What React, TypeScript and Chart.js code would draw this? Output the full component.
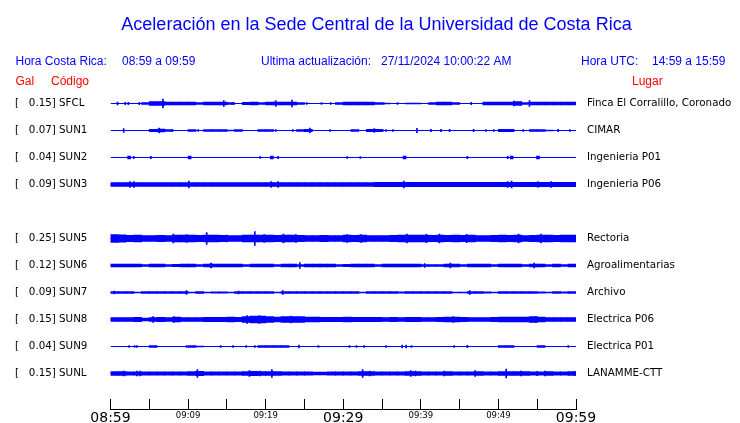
import { useEffect, useRef } from "react";
import { Chart, registerables } from "chart.js";

Chart.register(...registerables);

// ---- data ----
const stationCodes = ["SFCL", "SUN1", "SUN2", "SUN3", "SUN5", "SUN6", "SUN7", "SUN8", "SUN9", "SUNL"];
const stationRows = [0, 1, 2, 3, 5, 6, 7, 8, 9, 10];
const galValues = ["0.15", "0.07", "0.04", "0.09", "0.25", "0.12", "0.09", "0.15", "0.04", "0.15"];
const places = [
  "Finca El Corralillo, Coronado",
  "CIMAR",
  "Ingenieria P01",
  "Ingenieria P06",
  "Rectoria",
  "Agroalimentarias",
  "Archivo",
  "Electrica P06",
  "Electrica P01",
  "LANAMME-CTT",
];
const timeTickLabels = ["08:59", "", "09:09", "", "09:19", "", "09:29", "", "09:39", "", "09:49", "", "09:59"];
const majorTickIndexes = [0, 6, 12];

// trace envelope per minute (half amplitude, trace units: 27 = one row)
const envSFCL = [0, 0, 0, 0, 1, 2, 2, 1.5, 1.5, 1.5, 1.5, 1, 1.5, 1.5, 1.5, 1, 0, 1.2, 1.5, 1, 1.5, 1.5, 1.5, 1.5, 1, 0, 0, 0, 0, 1, 1.5, 1.5, 1.5, 1.5, 1, 0.5, 0, 0, 0.5, 0.5, 0, 1, 1.5, 1.5, 1, 0, 0, 0, 1.5, 1.5, 1.5, 1.5, 2, 1, 1.5, 1.5, 1.5, 1.5, 1.5, 1.5];
const envSUN1 = [0, 0, 0, 0, 0, 1.2, 1.5, 0.8, 0, 0, 1, 0, 1, 1, 0.8, 0.5, 0.8, 0, 0, 0.8, 0.8, 0, 0, 0, 0.8, 1.2, 0, 0, 0, 0, 0, 1, 0, 1.2, 1.2, 0, 0, 0, 0, 0, 0, 0, 0, 0, 0, 0, 0, 0, 0, 0, 1.2, 1.2, 0, 0, 1, 1, 0.5, 0, 0, 0];
const envSUN2 = [0, 0, 0, 0, 0, 0, 0, 0, 0, 0, 0, 0, 0, 0, 0, 0, 0, 0, 0, 0, 0, 0, 0, 0, 0, 0, 0, 0, 0, 0, 0, 0, 0, 0, 0, 0, 0, 0, 0, 0, 0, 0, 0, 0, 0, 0, 0, 0, 0, 0, 0, 0, 0, 0, 0, 0, 0, 0, 0, 0];
const envSUN3 = [2, 2, 2, 2, 2, 2, 2, 2, 2, 2, 2, 2, 2, 2, 2, 2, 2, 2, 2, 2, 2, 2, 2, 2, 2, 2, 2, 2, 2, 2, 2, 2, 2, 2, 2.2, 2.2, 2.2, 2.2, 2.2, 2.2, 2.2, 2.2, 2.2, 2.2, 2.2, 2.2, 2.2, 2.2, 2.2, 2.2, 2.2, 2.2, 2.2, 2.2, 2.2, 2.2, 2.2, 2.2, 2.2, 2.2];
const envSUN5 = [4, 3.6, 3.2, 3.3, 3, 3, 3.2, 3, 3.3, 3.5, 3.3, 3.2, 3.5, 3.3, 3.2, 3, 3, 3.3, 3.5, 3.5, 3.3, 3.2, 3.5, 3.3, 3.2, 3, 3, 3.2, 3, 3, 3.3, 3.2, 3.3, 3, 3, 3, 3.2, 3.3, 3.5, 3.3, 3.3, 3.2, 3.3, 3.2, 3.3, 3.2, 3.3, 3, 3, 3.2, 3.3, 3.2, 3.3, 3, 3.2, 3.3, 3.3, 3.2, 3.3, 3.3];
const envSUN6 = [1.5, 1.5, 1.5, 1.5, 0.8, 1.5, 1.5, 0.8, 1.2, 1.5, 1.5, 0.8, 1.5, 1.5, 1.5, 1.5, 1.5, 0.8, 1.5, 1.5, 1.5, 0.8, 1.5, 1.5, 1, 1.5, 1.5, 1.5, 1.5, 0.8, 1.2, 1.5, 1.5, 1.5, 0.8, 1.5, 1.5, 1.5, 1.5, 1.5, 1, 0.8, 1, 1.5, 1.5, 0.8, 1.5, 1.5, 1.5, 0.8, 1.5, 1.5, 1.5, 0.8, 1.5, 1.5, 0.8, 1.5, 1, 1.5];
const envSUN7 = [1, 1, 0.8, 0.5, 1, 1, 1, 1, 1, 1, 0.5, 0.8, 0.3, 0.6, 0.6, 0.5, 1, 1, 1, 0.8, 1, 0.5, 1, 0.8, 1, 1, 0.8, 1, 0.8, 1, 1, 1, 0.5, 1, 1, 1, 1, 0.6, 1, 1, 0.8, 1, 1, 1, 0.5, 0.3, 1, 1, 0.6, 0.3, 1, 1, 1, 0.8, 0.8, 0.6, 0.5, 0.8, 0.6, 0.8];
const envSUN8 = [2, 1.8, 2, 2.2, 1.5, 2, 2.2, 2, 2.3, 2, 2, 1.8, 2.2, 2.2, 2.2, 2.3, 2.2, 3, 3.3, 3.3, 3, 2.5, 2.8, 3, 2.8, 2.5, 2.5, 2.2, 2.2, 2.2, 2.3, 2.2, 2.2, 2.2, 2.2, 2, 2.2, 2, 2.2, 2.2, 2, 2, 2.2, 2.5, 2.5, 2.2, 2, 1.8, 2, 2.2, 2.5, 2.5, 2.5, 2.5, 2.8, 2.5, 1.8, 1.8, 2, 2];
const envSUN9 = [0, 0, 0, 0, 0, 1, 0, 0, 0, 0, 1, 0.5, 0, 0, 0, 0, 0, 0, 0, 0.8, 1, 1, 1, 0, 0, 0, 0, 0, 0, 0, 0, 0, 0, 0, 0, 0, 0, 0, 0, 0, 0, 0, 0, 0, 0, 0, 0, 0, 0, 0, 1, 1, 0, 0, 0, 1, 0, 0, 0, 0];
const envSUNL = [1.8, 1.8, 1.6, 1.6, 1.6, 1.6, 1.6, 1.6, 1.6, 1.6, 2, 2.2, 1.6, 1.6, 1.6, 1.6, 1.6, 2, 2.2, 1.8, 2, 2, 1.6, 1.6, 1.6, 1.6, 1.5, 1.5, 1.6, 1.6, 1.6, 1.6, 1.8, 1.8, 1.6, 1.6, 1.6, 1.6, 1.8, 1.8, 1.6, 1.6, 1.6, 1.8, 1.6, 1.6, 1.6, 1.8, 1.6, 1.6, 1.8, 2, 1.8, 1.8, 1.6, 1.6, 1.8, 1.6, 1.6, 2];

// narrow peaks: [minute, half amplitude]
const spikesSFCL = [[0.9, 1.5], [1.9, 1.2], [2.3, 1.2], [3.7, 1.2], [6.75, 4.5], [14.6, 3], [15.7, 1], [21.3, 3], [23.4, 3.5], [25.3, 1], [27.2, 1], [28.4, 1], [35.2, 1], [37, 1], [46.5, 1.2], [52, 2.5], [54, 3]];
const spikesSUN1 = [[1.7, 2], [6.3, 2.5], [8, 1], [11.3, 1], [21.3, 1], [23.5, 1], [25.7, 2.5], [28.3, 1], [34, 2], [35.1, 1], [35.5, 1], [36.4, 1], [39.5, 2.2], [41.3, 1.2], [42.6, 1.2], [43.7, 1.2], [46.8, 1.2], [48.4, 1], [49.4, 1], [53.2, 1], [57.7, 1.2], [59.2, 0.8]];
const spikesSUN2 = [[3.0, 1.2], [5.2, 1.2], [19.3, 1], [21.6, 1.2], [30.5, 1], [32.2, 1], [46, 1.2], [51.2, 1.2]];
const spikesSUN3 = [[2.5, 3], [3, 3], [10.1, 3.5], [20.7, 3], [21.6, 3], [37.8, 3.5], [51.2, 3], [51.7, 3.5], [55.1, 3], [56.8, 3]];
const spikesSUN5 = [[8.1, 4.5], [9.8, 4], [12.4, 6], [15, 3.5], [18.6, 7], [19.8, 4], [22.3, 4.5], [23.9, 4], [30.5, 3.8], [32.3, 3.8], [38.2, 4.5], [40.7, 4.2], [42.4, 4.5], [45.9, 4.2], [52.6, 4.5], [55.5, 4.5]];
const spikesSUN6 = [[12.9, 2], [13, 2.5], [24.4, 3], [40.5, 2], [43.8, 2.5], [54.6, 2.5]];
const spikesSUN7 = [[0.5, 1.5], [9.8, 2], [16.5, 1.5], [22.2, 2], [46.3, 2]];
const spikesSUN8 = [[5.5, 2.8], [8.2, 3], [17.6, 4], [19.2, 3.8], [23.3, 3.5], [44.2, 3], [54.8, 3]];
const spikesSUN9 = [[2.4, 1], [3.1, 1], [3.4, 1], [9.8, 1], [14.2, 1], [15.8, 1], [17.5, 1], [18.6, 1], [24.3, 1.5], [26.8, 1], [30.8, 1], [31.7, 1], [32.7, 1], [35.5, 1], [37.6, 1.5], [38.1, 1.5], [38.8, 1], [44.3, 1], [46, 1.2], [59, 1]];
const spikesSUNL = [[1.7, 2.5], [3.4, 2.5], [3.8, 2.5], [11.2, 4], [17.9, 2.8], [19.3, 2.5], [20.8, 4], [32.5, 4], [33.4, 2.5], [38.7, 3], [39.3, 2.5], [43, 2.5], [47, 3], [51, 4.5], [52.9, 2.5], [55, 2.2], [56, 2.5], [59.8, 2.2]];

// small box-shaped blips: [minute, half amplitude]
const blipsSUN2 = [[2.4, 1.5], [10.2, 1.5], [20.8, 1.5], [37.9, 1.5], [51.7, 1.3], [55.1, 1.5]];

const envelopes = [envSFCL, envSUN1, envSUN2, envSUN3, envSUN5, envSUN6, envSUN7, envSUN8, envSUN9, envSUNL];
const spikes = [spikesSFCL, spikesSUN1, spikesSUN2, spikesSUN3, spikesSUN5, spikesSUN6, spikesSUN7, spikesSUN8, spikesSUN9, spikesSUNL];
const blips = [[], [], blipsSUN2, [], [], [], [], [], [], []];

const TRACE_UNITS_PER_ROW = 27;
const BLUE = "#0000ff";
const RED = "#ff0000";

const headerPlugin = {
  id: "header",
  afterDraw(chart: any) {
    const ctx = chart.ctx;
    ctx.save();
    ctx.textBaseline = "alphabetic";
    ctx.fillStyle = BLUE;
    ctx.textAlign = "center";
    ctx.font = "18px 'Liberation Sans', Arial, sans-serif";
    ctx.fillText("Aceleración en la Sede Central de la Universidad de Costa Rica", 376.5, 29.5);
    ctx.textAlign = "left";
    ctx.font = "12px 'Liberation Sans', Arial, sans-serif";
    ctx.fillText("Hora Costa Rica:", 15.5, 65);
    ctx.fillText("08:59 a 09:59", 122, 65);
    ctx.fillText("Ultima actualización:", 261, 65);
    ctx.fillText("27/11/2024 10:00:22 AM", 381, 65);
    ctx.fillText("Hora UTC:", 581, 65);
    ctx.fillText("14:59 a 15:59", 652, 65);
    ctx.fillStyle = RED;
    ctx.fillText("Gal", 15.5, 85);
    ctx.fillText("Código", 51, 85);
    ctx.fillText("Lugar", 632, 85);
    ctx.restore();
  },
};

const clearPadding = (scale: any) => {
  scale.paddingTop = 0;
  scale.paddingBottom = 0;
  scale.paddingLeft = 0;
  scale.paddingRight = 0;
};

export default function App() {
  const canvasRef = useRef<HTMLCanvasElement | null>(null);

  useEffect(() => {
    if (!canvasRef.current) return;
    const toRange = (row: number, a: number) => [row - a / TRACE_UNITS_PER_ROW, row + a / TRACE_UNITS_PER_ROW];

    const datasets: any[] = [];
    stationRows.forEach((row, s) => {
      datasets.push({
        type: "line",
        data: [{ x: 0, y: row }, { x: 60, y: row }],
        borderColor: BLUE,
        borderWidth: 1,
        pointRadius: 0,
        yAxisID: "y",
      });
      datasets.push({
        type: "bar",
        data: envelopes[s]
          .map((a, i) => ({ x: i + 0.5, y: toRange(row, a), a }))
          .filter((p) => p.a > 0),
        backgroundColor: BLUE,
        borderWidth: 0,
        barThickness: 8,
        grouped: false,
        yAxisID: "y",
      });
      datasets.push({
        type: "bar",
        data: spikes[s].map(([m, a]) => ({ x: m, y: toRange(row, a) })),
        backgroundColor: BLUE,
        borderWidth: 0,
        barThickness: 1,
        grouped: false,
        yAxisID: "y",
      });
      if (blips[s].length) {
        datasets.push({
          type: "bar",
          data: blips[s].map(([m, a]) => ({ x: m, y: toRange(row, a) })),
          backgroundColor: BLUE,
          borderWidth: 0,
          barThickness: 3,
          grouped: false,
          yAxisID: "y",
        });
      }
    });

    const rowTicks = (scale: any) => {
      scale.ticks = stationRows.map((r) => ({ value: r }));
    };

    const chart = new Chart(canvasRef.current, {
      type: "bar",
      data: { datasets },
      plugins: [headerPlugin],
      options: {
        animation: false,
        responsive: false,
        events: [],
        layout: { autoPadding: false, padding: { left: 15, top: 76.5, right: 0, bottom: 0 } },
        plugins: { legend: { display: false }, tooltip: { enabled: false }, title: { display: false } },
        scales: {
          x: {
            type: "linear",
            min: 0,
            max: 60,
            offset: false,
            grid: { display: true, offset: false, drawOnChartArea: false, drawTicks: true, tickLength: -10, color: "#000", lineWidth: 1 },
            border: { display: true, color: "#000", width: 1 },
            ticks: {
              stepSize: 5,
              autoSkip: false,
              maxRotation: 0,
              padding: 9.6,
              color: "#000",
              font: (ctx: any) =>
                majorTickIndexes.includes(ctx.index)
                  ? { family: "'DejaVu Sans'", size: 14, lineHeight: 1.35 }
                  : { family: "'DejaVu Sans'", size: 8.5, lineHeight: 1.75 },
              callback: (value: any) => timeTickLabels[Math.round(Number(value) / 5)] ?? "",
            },
            afterFit: (scale: any) => {
              scale.height = 14;
              clearPadding(scale);
            },
          },
          y: {
            type: "linear",
            position: "left",
            reverse: true,
            min: -1,
            max: 11.3148,
            grid: { display: false, drawTicks: false },
            border: { display: false },
            afterBuildTicks: rowTicks,
            ticks: {
              autoSkip: false,
              crossAlign: "far",
              padding: 0,
              color: "#000",
              font: { family: "'DejaVu Sans'", size: 10.3 },
              callback: (_v: any, i: number) => `[   ${galValues[i]}] ${stationCodes[i]}`,
            },
            afterFit: (scale: any) => {
              scale.width = 95.5;
              clearPadding(scale);
            },
          },
          y2: {
            type: "linear",
            position: "right",
            reverse: true,
            min: -1,
            max: 11.3148,
            grid: { display: false, drawTicks: false },
            border: { display: false },
            afterBuildTicks: rowTicks,
            ticks: {
              autoSkip: false,
              padding: 11,
              color: "#000",
              font: { family: "'DejaVu Sans'", size: 10.3 },
              callback: (_v: any, i: number) => places[i],
            },
            afterFit: (scale: any) => {
              scale.width = 164;
              clearPadding(scale);
            },
          },
        },
      } as any,
    });
    return () => chart.destroy();
  }, []);

  return (
    <div style={{ position: "absolute", left: 0, top: 0, width: 740, height: 423, background: "#fff" }}>
      <canvas ref={canvasRef} width={740} height={423} style={{ display: "block" }} />
    </div>
  );
}
